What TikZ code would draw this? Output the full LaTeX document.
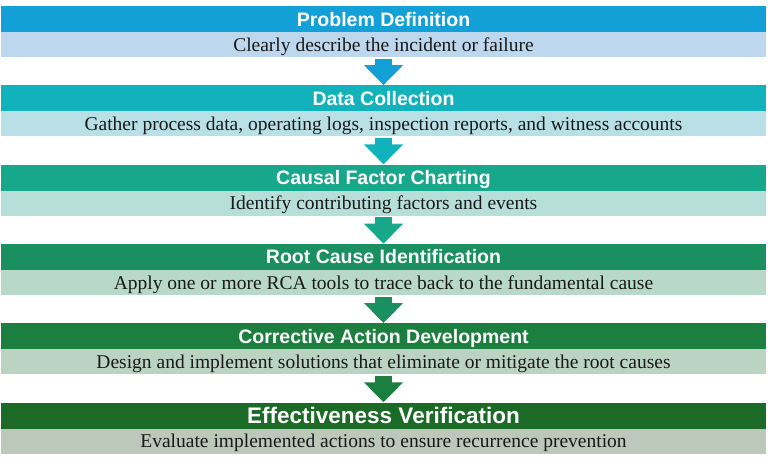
\documentclass[tikz,border=0pt]{standalone}
\usepackage{fontspec}
\setmainfont{Liberation Serif}
\setsansfont{Liberation Sans}
\usetikzlibrary{arrows.meta}
\definecolor{hdA}{HTML}{12A0D7}
\definecolor{hdB}{HTML}{12B2BD}
\definecolor{hdC}{HTML}{17A78B}
\definecolor{hdD}{HTML}{1A8F5F}
\definecolor{hdE}{HTML}{1D7F3F}
\definecolor{hdF}{HTML}{1B6B26}
\definecolor{dsA}{HTML}{BDD7EE}
\definecolor{dsB}{HTML}{B8E0E6}
\definecolor{dsC}{HTML}{B6DFD9}
\definecolor{dsD}{HTML}{B8D8CA}
\definecolor{dsE}{HTML}{BAD3C2}
\definecolor{dsF}{HTML}{BCC8B9}
\tikzstyle{headbar}=[rectangle,minimum width=765pt,minimum height=26pt,inner sep=0pt,text height=14pt,text depth=0pt,text=white,font=\sffamily\bfseries\fontsize{19.5}{22}\selectfont]
\tikzstyle{descbar}=[rectangle,minimum width=765pt,minimum height=25pt,inner sep=0pt,text height=13.5pt,text depth=0pt,text=black!90,font=\fontsize{19.5}{22}\selectfont]
\tikzstyle{flowarrow}=[line width=17pt,shorten <=1.5pt,-{Triangle[length=20pt,width=38pt]}]

\begin{document}
\begin{tikzpicture}[x=1pt,y=-1pt]
    \useasboundingbox (0,0) rectangle (768,463);
    \node[headbar,fill=hdA] (h1) at (383.5,19)    {Problem Definition};
    \node[descbar,fill=dsA] (d1) at (383.5,44.5)  {Clearly describe the incident or failure};
    \node[headbar,fill=hdB] (h2) at (383.5,98.3)  {Data Collection};
    \node[descbar,fill=dsB] (d2) at (383.5,123.8) {Gather process data, operating logs, inspection reports, and witness accounts};
    \node[headbar,fill=hdC] (h3) at (383.5,177.6) {Causal Factor Charting};
    \node[descbar,fill=dsC] (d3) at (383.5,203.1) {Identify contributing factors and events};
    \node[headbar,fill=hdD] (h4) at (383.5,256.9) {Root Cause Identification};
    \node[descbar,fill=dsD] (d4) at (383.5,282.4) {Apply one or more RCA tools to trace back to the fundamental cause};
    \node[headbar,fill=hdE] (h5) at (383.5,336.2) {Corrective Action Development};
    \node[descbar,fill=dsE] (d5) at (383.5,361.7) {Design and implement solutions that eliminate or mitigate the root causes};
    \node[headbar,fill=hdF,font=\sffamily\bfseries\fontsize{22.5}{25}\selectfont,text height=16pt] (h6) at (383.5,415.5) {Effectiveness Verification};
    \node[descbar,fill=dsF] (d6) at (383.5,441)   {Evaluate implemented actions to ensure recurrence prevention};

    \foreach \from/\to/\col in {d1/h2/hdA,d2/h3/hdB,d3/h4/hdC,d4/h5/hdD,d5/h6/hdE}
    \draw[flowarrow,draw=\col] (\from.south) -- (\to.north);
\end{tikzpicture}
\end{document}
